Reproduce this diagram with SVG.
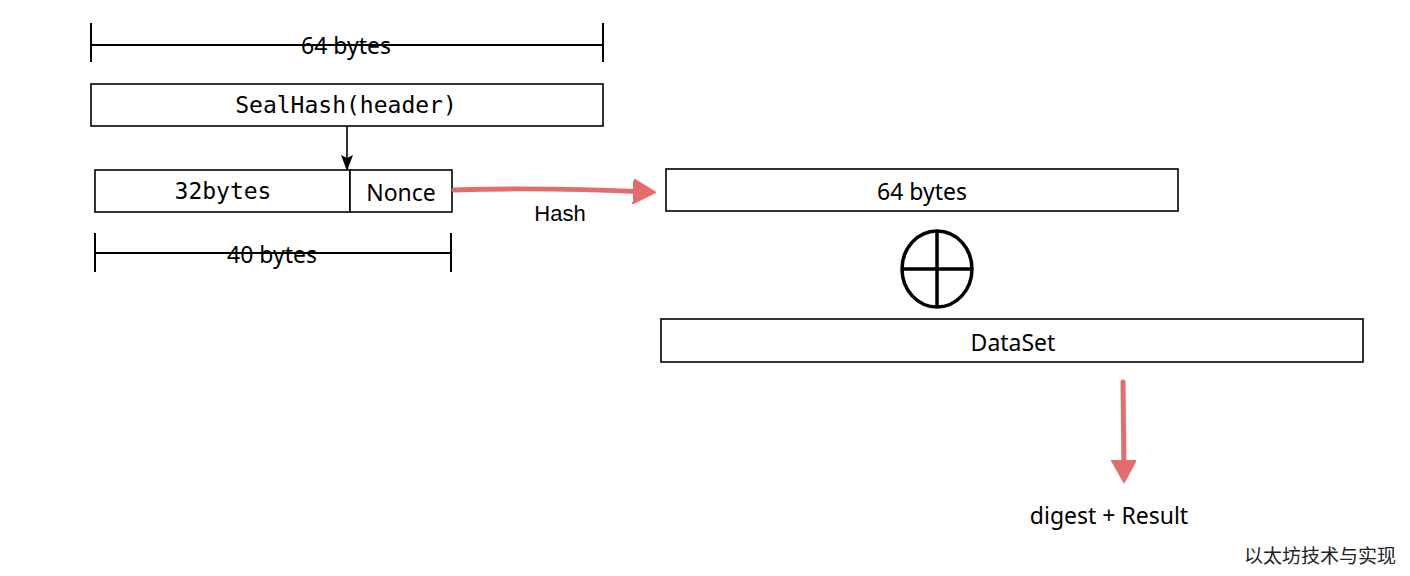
<svg xmlns="http://www.w3.org/2000/svg" width="1410" height="576" viewBox="0 0 1410 576">
<style>
.box{fill:#fff;stroke:#000;stroke-width:1.6}
.dim{stroke:#000;stroke-width:2;fill:none}
.hand{font-family:"Noto Sans","DejaVu Sans",sans-serif;font-size:23px;fill:#000;text-anchor:middle}
.mono{font-family:"DejaVu Sans Mono","Liberation Mono",monospace;font-size:23px;fill:#000;text-anchor:middle}
.sans{font-family:"Liberation Sans",Arial,sans-serif;font-size:22px;fill:#000;text-anchor:middle}
.red{stroke:#e36c6c;stroke-width:5;fill:none;stroke-linecap:round}
</style>
<defs>
<marker id="redhead" markerWidth="5" markerHeight="5" refX="3" refY="2.5" orient="auto" markerUnits="strokeWidth">
<path d="M0,0 L4.5,2.5 L0,5 Z" fill="#e36c6c" stroke="#e36c6c" stroke-width="0.3" stroke-linejoin="round"/>
</marker>
<marker id="blackhead" markerWidth="16" markerHeight="12" refX="15" refY="6" orient="auto" markerUnits="userSpaceOnUse" viewBox="0 0 16 12">
<path d="M0,0 L16,6 L0,12 L3,6 Z" fill="#000"/>
</marker>
</defs>
<rect width="1410" height="576" fill="#fff"/>
<g id="dim64">
<path class="dim" d="M91,23 V62 M603,23 V62 M91,45 H603"/>
<text class="hand" x="346" y="54">64 bytes</text>
</g>
<g id="sealhash">
<rect class="box" x="91" y="84" width="512" height="42"/>
<text class="mono" x="346" y="113">SealHash(header)</text>
</g>
<g id="bytes32">
<rect class="box" x="95" y="170" width="255" height="42"/>
<text class="mono" x="223" y="199">32bytes</text>
</g>
<g id="nonce">
<rect class="box" x="350" y="170" width="102" height="42"/>
<text class="hand" x="401" y="201">Nonce</text>
</g>
<g id="dim40">
<path class="dim" d="M95,233 V272 M451,233 V272 M95,253 H451"/>
<text class="hand" x="272" y="263">40 bytes</text>
</g>
<g id="hash64">
<rect class="box" x="666" y="169" width="512" height="42"/>
<text class="hand" x="922" y="200">64 bytes</text>
</g>
<g id="xor">
<ellipse cx="937" cy="269" rx="35" ry="38" fill="#fff" stroke="#000" stroke-width="3.5"/>
<path d="M937,231 V307 M902,269 H972" stroke="#000" stroke-width="3.5"/>
</g>
<g id="dataset">
<rect class="box" x="661" y="319" width="702" height="43"/>
<text class="hand" x="1013" y="351">DataSet</text>
</g>
<g id="result">
<text class="hand" x="1109" y="524">digest + Result</text>
</g>
<g id="connectors">
<path d="M347,126 V170" stroke="#000" stroke-width="1.6" fill="none" marker-end="url(#blackhead)"/>
<path class="red" d="M454,190 Q540,187 648,192" marker-end="url(#redhead)"/>
<text class="sans" x="560" y="221">Hash</text>
<path class="red" d="M1123,382 L1124,475" marker-end="url(#redhead)"/>
</g>
<text x="1320" y="563" font-family="'Noto Sans CJK SC',sans-serif" font-size="19" text-anchor="middle" fill="#222">以太坊技术与实现</text>
</svg>
